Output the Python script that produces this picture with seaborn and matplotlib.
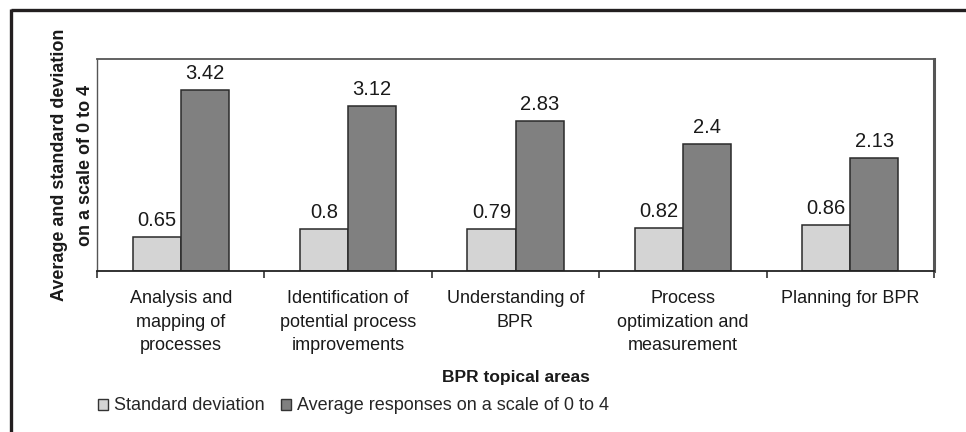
import matplotlib
matplotlib.use("Agg")
import matplotlib.pyplot as plt
from matplotlib.lines import Line2D
from matplotlib.patches import Patch
import seaborn as sns
import pandas as pd
import numpy as np

categories = [
    "Analysis and\nmapping of\nprocesses",
    "Identification of\npotential process\nimprovements",
    "Understanding of\nBPR",
    "Process\noptimization and\nmeasurement",
    "Planning for BPR",
]
series_names = ["Standard deviation", "Average responses on a scale of 0 to 4"]
std_dev = [0.65, 0.80, 0.79, 0.82, 0.86]
avg_resp = [3.42, 3.12, 2.83, 2.40, 2.13]
value_labels = [["0.65", "0.8", "0.79", "0.82", "0.86"],
                ["3.42", "3.12", "2.83", "2.4", "2.13"]]
colors = ["#d4d4d4", "#808080"]

sns.set_theme(style="white")
plt.rcParams["font.family"] = ["Liberation Sans", "DejaVu Sans"]

df = pd.DataFrame({
    "area": categories * 2,
    "series": [series_names[0]] * 5 + [series_names[1]] * 5,
    "value": std_dev + avg_resp,
})

fig = plt.figure(figsize=(9.66, 4.32), dpi=100)
ax = fig.add_axes([97 / 966, 1 - 271 / 432, (934 - 97) / 966, (271 - 59) / 432])

sns.barplot(data=df, x="area", y="value", hue="series", order=categories,
            hue_order=series_names, palette=colors, width=0.575, gap=0,
            edgecolor="#2a2a2a", linewidth=1.1, saturation=1, ax=ax,
            legend=False)

for cont, labels in zip(ax.containers, value_labels):
    ax.bar_label(cont, labels=labels, padding=5, fontsize=14.5, color="#1a1a1a")

ax.set_ylim(0, 4)
ax.set_xlim(-0.5, 4.5)
ax.set_yticks([])
ax.set_xticks(range(5))
ax.set_xticklabels(categories, fontsize=13, color="#1a1a1a", linespacing=1.5,
                   va="top")
ax.tick_params(axis="x", which="major", length=0, pad=14)
ax.set_xticks(np.arange(-0.5, 5.0, 1.0), minor=True)
ax.tick_params(axis="x", which="minor", length=5, width=1.2, color="#333333",
               direction="out", bottom=True)

ax.set_xlabel("BPR topical areas", fontsize=12.5, fontweight="bold",
              color="#1a1a1a", labelpad=11)
ax.set_ylabel("Average and standard deviation\non a scale of 0 to 4",
              fontsize=13, fontweight="bold", color="#1a1a1a",
              linespacing=1.7, labelpad=2)

for side in ["top", "right", "left"]:
    ax.spines[side].set_visible(True)
ax.spines["bottom"].set_color("#222222")
ax.spines["bottom"].set_linewidth(1.3)
ax.spines["left"].set_color("#555555")
ax.spines["left"].set_linewidth(1.0)
ax.spines["top"].set_color("#555555")
ax.spines["top"].set_linewidth(1.3)
ax.spines["right"].set_color("#555555")
ax.spines["right"].set_linewidth(2.2)

handles = [Patch(facecolor=c, edgecolor="#333333", linewidth=1.0) for c in colors]
fig.legend(handles, series_names, loc="center left",
           bbox_to_anchor=(89 / 966, 1 - 406 / 432), ncol=2, frameon=False,
           fontsize=13, handlelength=0.55, handleheight=0.55,
           handletextpad=0.35, columnspacing=0.9, borderpad=0)

# outer frame (top and left edges of the panel border)
fig.add_artist(Line2D([10.5 / 966, 1.0], [1 - 9.5 / 432, 1 - 9.5 / 432],
                      transform=fig.transFigure, color="#231f20", lw=2.4,
                      solid_capstyle="butt"))
fig.add_artist(Line2D([10.5 / 966, 10.5 / 966], [0.0, 1 - 8.5 / 432],
                      transform=fig.transFigure, color="#231f20", lw=2.4,
                      solid_capstyle="butt"))

fig.savefig("out.png", dpi=100, facecolor="white")
